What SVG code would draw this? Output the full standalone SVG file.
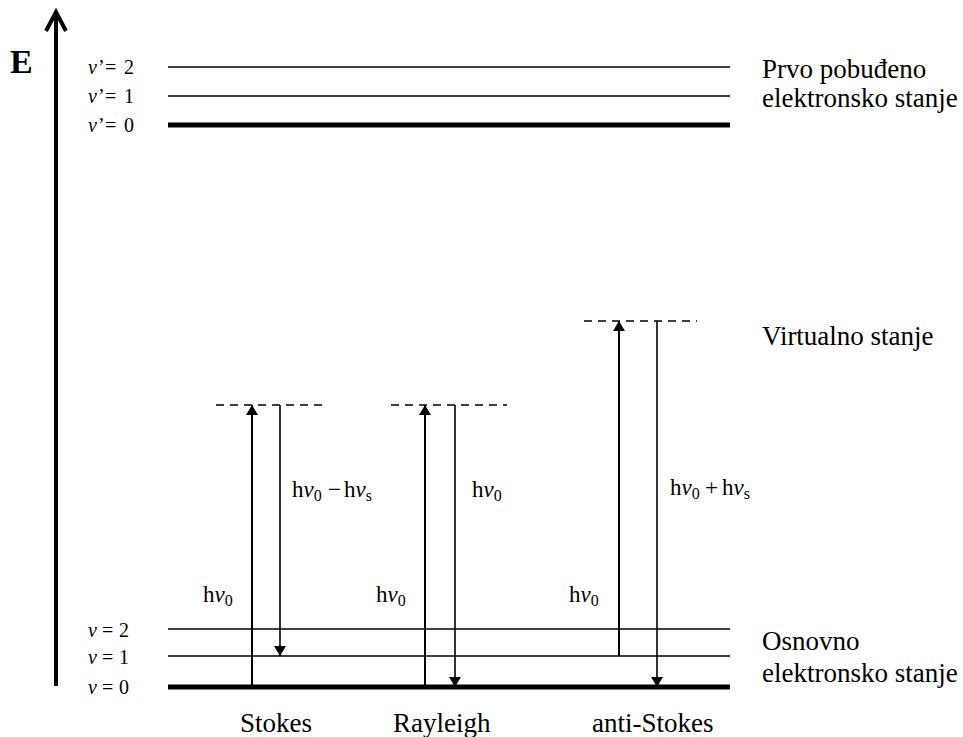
<svg xmlns="http://www.w3.org/2000/svg" width="963" height="737" viewBox="0 0 963 737" font-family="'Liberation Serif', 'Times New Roman', serif">
<style>
.t{font-family:'Liberation Serif','Times New Roman',serif;fill:#000}
.lv{font-size:20px}
.lab{font-size:27px}
.en{font-size:23px}
.sub{font-size:16px}
.thin{stroke:#000;stroke-width:1.6;fill:none}
.thick{stroke:#000;stroke-width:5;fill:none}
.dash{stroke:#000;stroke-width:1.6;stroke-dasharray:8 6;fill:none}
.arr{stroke:#000;stroke-width:2;fill:none;marker-end:url(#ah)}
.arrt{stroke:#000;stroke-width:1.6;fill:none;marker-end:url(#ah)}
</style>
<defs>
<marker id="ah" viewBox="0 0 10 12" refX="10" refY="6" markerWidth="10" markerHeight="12" markerUnits="userSpaceOnUse" orient="auto">
<path d="M0,0 L10,6 L0,12 Z" fill="#000"/>
</marker>
</defs>
<rect width="963" height="737" fill="#fff"/>

<g id="axis">
<line x1="56" y1="686" x2="56" y2="12" stroke="#000" stroke-width="4"/>
<polyline points="46,31 56,12 66,31" fill="none" stroke="#000" stroke-width="4" stroke-linejoin="miter"/>
<text class="t" x="10" y="73" font-size="34" font-weight="bold">E</text>
</g>

<g id="excited-levels">
<line class="thin" x1="168" y1="67" x2="730" y2="67"/>
<line class="thin" x1="168" y1="96" x2="730" y2="96"/>
<line class="thick" x1="168" y1="125" x2="730" y2="125"/>
<text class="t lv" y="74"><tspan x="88" font-style="italic">v</tspan><tspan x="98">’</tspan><tspan x="105">=</tspan><tspan x="124">2</tspan></text>
<text class="t lv" y="103"><tspan x="88" font-style="italic">v</tspan><tspan x="98">’</tspan><tspan x="105">=</tspan><tspan x="124">1</tspan></text>
<text class="t lv" y="132"><tspan x="88" font-style="italic">v</tspan><tspan x="98">’</tspan><tspan x="105">=</tspan><tspan x="124">0</tspan></text>
<text class="t lab" x="762" y="78">Prvo pobuđeno</text>
<text class="t lab" x="762" y="107">elektronsko stanje</text>
</g>

<g id="ground-levels">
<line class="thin" x1="168" y1="629" x2="730" y2="629"/>
<line class="thin" x1="168" y1="656" x2="730" y2="656"/>
<line class="thick" x1="168" y1="687" x2="730" y2="687"/>
<text class="t lv" y="637"><tspan x="88" font-style="italic">v</tspan><tspan x="102">=</tspan><tspan x="119">2</tspan></text>
<text class="t lv" y="664"><tspan x="88" font-style="italic">v</tspan><tspan x="102">=</tspan><tspan x="119">1</tspan></text>
<text class="t lv" y="694"><tspan x="88" font-style="italic">v</tspan><tspan x="102">=</tspan><tspan x="119">0</tspan></text>
<text class="t lab" x="762" y="650">Osnovno</text>
<text class="t lab" x="762" y="682">elektronsko stanje</text>
</g>

<g id="virtual-states">
<line class="dash" x1="216" y1="405" x2="328" y2="405"/>
<line class="dash" x1="391" y1="405" x2="507" y2="405"/>
<line class="dash" x1="584" y1="321" x2="697" y2="321"/>
<text class="t lab" x="762" y="345">Virtualno stanje</text>
</g>

<g id="connectors">
<line class="arr" x1="252" y1="687" x2="252" y2="405"/>
<line class="arrt" x1="280" y1="405" x2="280" y2="656"/>
<line class="arr" x1="425" y1="687" x2="425" y2="405"/>
<line class="arrt" x1="455" y1="405" x2="455" y2="687"/>
<line class="arr" x1="619" y1="656" x2="619" y2="321"/>
<line class="arrt" x1="657" y1="321" x2="657" y2="687"/>
</g>

<g id="energy-labels">
<text class="t en" x="203" y="602">h<tspan font-style="italic">v</tspan><tspan class="sub" dy="4">0</tspan></text>
<text class="t en" x="376" y="602">h<tspan font-style="italic">v</tspan><tspan class="sub" dy="4">0</tspan></text>
<text class="t en" x="569" y="602">h<tspan font-style="italic">v</tspan><tspan class="sub" dy="4">0</tspan></text>
<text class="t en" y="497"><tspan x="292">h</tspan><tspan font-style="italic">v</tspan><tspan class="sub" dy="4">0</tspan><tspan x="328" dy="-4">−</tspan><tspan x="344">h</tspan><tspan font-style="italic">v</tspan><tspan class="sub" dy="4">s</tspan></text>
<text class="t en" x="472" y="497">h<tspan font-style="italic">v</tspan><tspan class="sub" dy="4">0</tspan></text>
<text class="t en" y="495"><tspan x="670">h</tspan><tspan font-style="italic">v</tspan><tspan class="sub" dy="4">0</tspan><tspan x="705" dy="-4">+</tspan><tspan x="722">h</tspan><tspan font-style="italic">v</tspan><tspan class="sub" dy="4">s</tspan></text>
</g>

<g id="process-labels">
<text class="t lab" x="240" y="732">Stokes</text>
<text class="t lab" x="393" y="732">Rayleigh</text>
<text class="t lab" x="592" y="732">anti-Stokes</text>
</g>
</svg>
